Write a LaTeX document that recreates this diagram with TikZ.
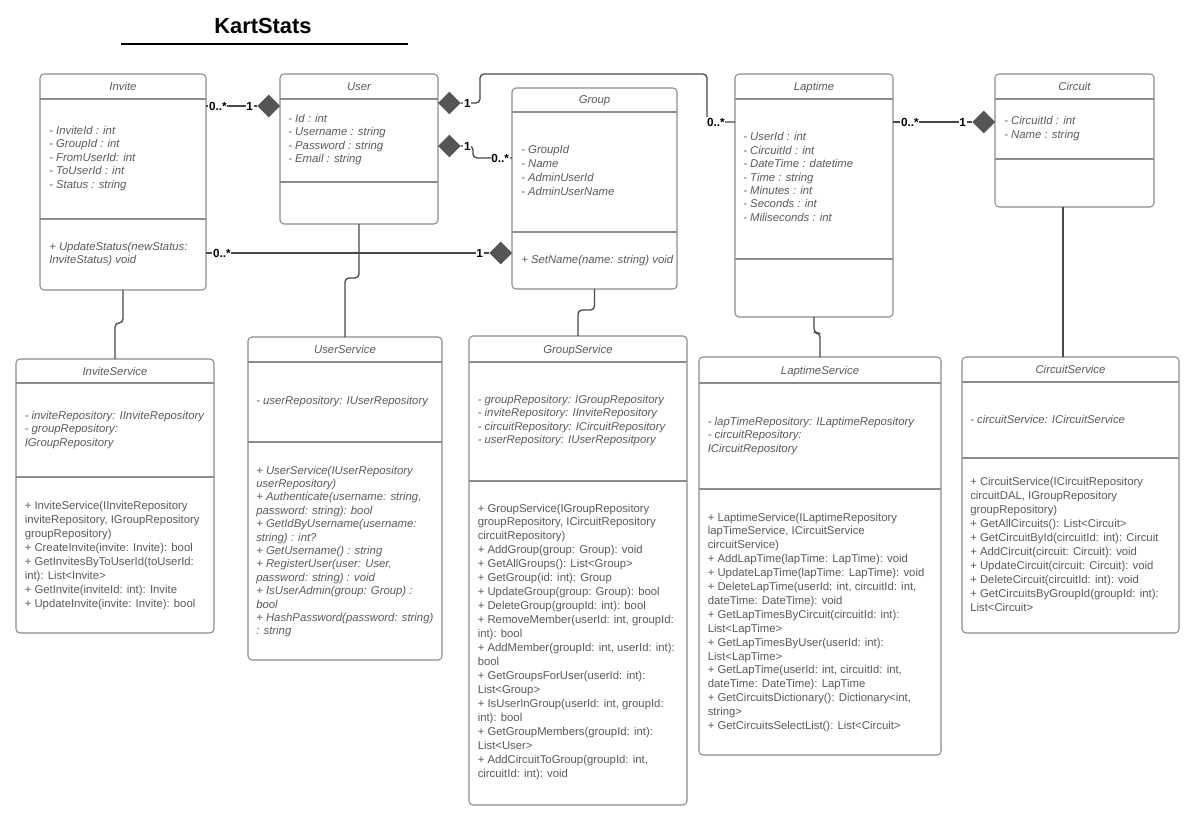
\documentclass[tikz,border=0pt]{standalone}
\usepackage{fontspec}
\setmainfont{Liberation Sans}
\usetikzlibrary{shapes.geometric,fit}
\definecolor{boxgray}{HTML}{8C8C8C}
\definecolor{txtgray}{HTML}{5A5A5A}
\definecolor{conngray}{HTML}{484848}
\definecolor{diagray}{HTML}{555555}
\newcommand\umlclass[8]{%
  \coordinate (#1-a) at (#2,#3);
  \coordinate (#1-b) at (#4,#5);
  \node[box,fit=(#1-a)(#1-b)] (#1) {};
  \draw[sepline] (#2,#6) -- (#4,#6) (#2,#7) -- (#4,#7);
  \node[ttl] (#1-t) at ({(#2+#4)/2},{(#3+#6)/2+4}) {#8};}
\newcommand\umlmembers[6]{%
  \foreach \mline [count=\i] in {#6} {\node[#2] (#1-\i) at (#3,{#4+(\i-1)*#5}) {\mline};}}
\begin{document}
\begin{tikzpicture}[x=0.75pt,y=-0.75pt,
  box/.style={draw=boxgray,line width=0.8pt,rounded corners=3pt,inner sep=0pt,outer sep=0pt},
  sepline/.style={draw=boxgray,line width=0.8pt},
  mem/.style={anchor=base west,inner sep=0pt,text=txtgray,font=\fontsize{8.5}{10}\selectfont\itshape},
  memup/.style={mem,font=\fontsize{8.5}{10}\selectfont},
  ttl/.style={anchor=base,inner sep=0pt,text=txtgray,font=\fontsize{8.5}{10}\selectfont\itshape},
  conn/.style={draw=conngray,line width=1pt},
  mult/.style={fill=white,inner sep=0.6pt,text=black,font=\fontsize{8.8}{10}\selectfont\bfseries},
  dia/.style={diamond,fill=diagray,draw=none,inner sep=0pt,outer sep=0pt,minimum width=17pt,minimum height=17pt}]
\fill[white] (0,0) rectangle (1194,823);
\useasboundingbox (0,0) rectangle (1194,823);

% title
\node[font=\fontsize{16.4}{20}\selectfont\bfseries,inner sep=0pt] (title) at (263,26) {KartStats};
\draw[line width=1.5pt] (121,44) -- (408,44);

% entity classes
\umlclass{invite}{40}{74}{206}{290}{99}{219}{Invite}
\umlmembers{inva}{mem}{49}{134.5}{13.4}{{- InviteId : int},{- GroupId : int},{- FromUserId: int},{- ToUserId : int},{- Status : string}}
\umlmembers{invm}{mem}{49}{250.5}{13.4}{{+ UpdateStatus(newStatus:},{InviteStatus) void}}

\umlclass{user}{280}{74}{438}{224}{99}{182}{User}
\umlmembers{usra}{mem}{288}{122.5}{13.5}{{- Id : int},{- Username : string},{- Password : string},{- Email : string}}

\umlclass{group}{512}{88}{677}{289}{112}{232}{Group}
\umlmembers{grpa}{mem}{521}{154}{13.7}{{- GroupId},{- Name},{- AdminUserId},{- AdminUserName}}
\umlmembers{grpm}{mem}{521}{264}{13.7}{{+ SetName(name: string) void}}

\umlclass{laptime}{735}{74}{893}{317}{99}{259}{Laptime}
\umlmembers{lapa}{mem}{743}{141}{13.4}{{- UserId : int},{- CircuitId : int},{- DateTime : datetime},{- Time : string},{- Minutes : int},{- Seconds : int},{- Miliseconds : int}}

\umlclass{circuit}{995}{74}{1154}{207}{99}{159}{Circuit}
\umlmembers{cira}{mem}{1004}{125}{13.6}{{- CircuitId : int},{- Name : string}}

% service classes
\umlclass{iserv}{16}{359}{214}{633}{383}{477}{InviteService}
\umlmembers{isa}{mem}{24.5}{419}{13.6}{{- inviteRepository: IInviteRepository},{- groupRepository:},{IGroupRepository}}
\umlmembers{ism}{memup}{24.5}{509}{14}{{+ InviteService(IInviteRepository},{inviteRepository, IGroupRepository},{groupRepository)},{+ CreateInvite(invite: Invite): bool},{+ GetInvitesByToUserId(toUserId:},{int): List<Invite>},{+ GetInvite(inviteId: int): Invite},{+ UpdateInvite(invite: Invite): bool}}

\umlclass{userv}{248}{337}{442}{660}{362}{442}{UserService}
\umlmembers{usa}{mem}{256}{404.5}{13.5}{{- userRepository: IUserRepository}}
\umlmembers{usm}{mem}{256}{474}{13.4}{{+ UserService(IUserRepository},{userRepository)},{+ Authenticate(username: string,},{password: string): bool},{+ GetIdByUsername(username:},{string) : int?},{+ GetUsername() : string},{+ RegisterUser(user: User,},{password: string) : void},{+ IsUserAdmin(group: Group) :},{bool},{+ HashPassword(password: string)},{: string}}

\umlclass{gserv}{469}{336}{687}{805}{362}{481}{GroupService}
\umlmembers{gsa}{mem}{477.5}{403}{13.6}{{- groupRepository: IGroupRepository},{- inviteRepository: IInviteRepository},{- circuitRepository: ICircuitRepository},{- userRepository: IUserRepositpory}}
\umlmembers{gsm}{memup}{477.5}{512}{13.95}{{+ GroupService(IGroupRepository},{groupRepository, ICircuitRepository},{circuitRepository)},{+ AddGroup(group: Group): void},{+ GetAllGroups(): List<Group>},{+ GetGroup(id: int): Group},{+ UpdateGroup(group: Group): bool},{+ DeleteGroup(groupId: int): bool},{+ RemoveMember(userId: int, groupId:},{int): bool},{+ AddMember(groupId: int, userId: int):},{bool},{+ GetGroupsForUser(userId: int):},{List<Group>},{+ IsUserInGroup(userId: int, groupId:},{int): bool},{+ GetGroupMembers(groupId: int):},{List<User>},{+ AddCircuitToGroup(groupId: int,},{circuitId: int): void}}

\umlclass{lserv}{699}{357}{941}{755}{383}{489}{LaptimeService}
\umlmembers{lsa}{mem}{707.5}{425}{13.5}{{- lapTimeRepository: ILaptimeRepository},{- circuitRepository:},{ICircuitRepository}}
\umlmembers{lsm}{memup}{707.5}{521}{13.9}{{+ LaptimeService(ILaptimeRepository},{lapTimeService, ICircuitService},{circuitService)},{+ AddLapTime(lapTime: LapTime): void},{+ UpdateLapTime(lapTime: LapTime): void},{+ DeleteLapTime(userId: int, circuitId: int,},{dateTime: DateTime): void},{+ GetLapTimesByCircuit(circuitId: int):},{List<LapTime>},{+ GetLapTimesByUser(userId: int):},{List<LapTime>},{+ GetLapTime(userId: int, circuitId: int,},{dateTime: DateTime): LapTime},{+ GetCircuitsDictionary(): Dictionary<int,},{string>},{+ GetCircuitsSelectList(): List<Circuit>}}

\umlclass{cserv}{962}{357}{1179}{633}{382}{458}{CircuitService}
\umlmembers{csa}{mem}{970}{423}{13.5}{{- circuitService: ICircuitService}}
\umlmembers{csm}{memup}{970}{485}{14}{{+ CircuitService(ICircuitRepository},{circuitDAL, IGroupRepository},{groupRepository)},{+ GetAllCircuits(): List<Circuit>},{+ GetCircuitById(circuitId: int): Circuit},{+ AddCircuit(circuit: Circuit): void},{+ UpdateCircuit(circuit: Circuit): void},{+ DeleteCircuit(circuitId: int): void},{+ GetCircuitsByGroupId(groupId: int):},{List<Circuit>}}

% helper rows
\coordinate (r1) at (0,106);
\coordinate (r2) at (0,103);
\coordinate (r3) at (0,146);
\coordinate (r4) at (0,253);
\coordinate (r5) at (0,122);
\coordinate (r6) at (0,158);
\coordinate (cx) at (1063,0);

% associations
\node[dia,anchor=east] (d1) at (user.west |- r1) {};
\draw[conn] (invite.east |- r1) -- (d1.west);
\node[dia,anchor=west] (d2) at (user.east |- r2) {};
\draw[conn,rounded corners=3pt] (d2.east) -- (480,103) -- (480,74) -- (707,74) -- (707,122) -- (laptime.west |- r5);
\node[dia,anchor=west] (d3) at (user.east |- r3) {};
\draw[conn,rounded corners=3pt] (d3.east) -- (473,146) -- (473,158) -- (group.west |- r6);
\node[dia,anchor=east] (d4) at (group.west |- r4) {};
\draw[conn] (invite.east |- r4) -- (d4.west);
\node[dia,anchor=east] (d5) at (circuit.west |- r5) {};
\draw[conn] (laptime.east |- r5) -- (d5.west);

% service links
\draw[conn,rounded corners=3pt] (invite.south) -- ++(0,33) -| (iserv.north);
\draw[conn,rounded corners=3pt] (user.south) -- ++(0,54) -| (userv.north);
\draw[conn,rounded corners=3pt] (group.south) -- ++(0,21) -| (gserv.north);
\draw[conn,rounded corners=3pt] (laptime.south) -- ++(0,16) -| (lserv.north);
\draw[conn] (circuit.south -| cx) -- (cserv.north -| cx);

% multiplicities
\node[mult,anchor=west] (m1a) at (208,106) {0..*};
\node[mult,anchor=east] (m1b) at (254,106) {1};
\node[mult,anchor=west] (m2a) at (463,103) {1};
\node[mult,anchor=west] (m2b) at (706,122) {0..*};
\node[mult,anchor=west] (m3a) at (463,146) {1};
\node[mult,anchor=east] (m3b) at (510,158) {0..*};
\node[mult,anchor=west] (m4a) at (212,253) {0..*};
\node[mult,anchor=east] (m4b) at (484,253) {1};
\node[mult,anchor=west] (m5a) at (900,122) {0..*};
\node[mult,anchor=east] (m5b) at (967,122) {1};
\end{tikzpicture}
\end{document}
